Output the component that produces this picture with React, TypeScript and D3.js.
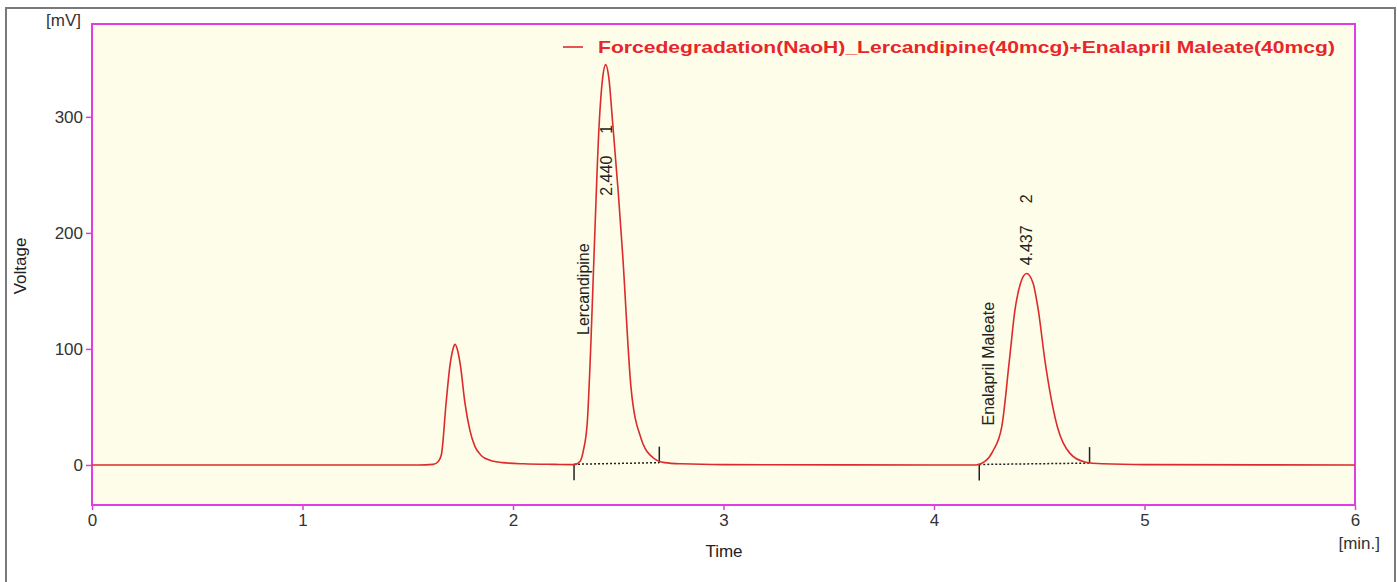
import * as d3 from 'd3';
import { useEffect, useRef } from 'react';

// chromatogram signal (min, mV)
const signalTime = [
  0, 1.55, 1.62, 1.645, 1.66, 1.682, 1.7, 1.715, 1.724, 1.735, 1.75, 1.772, 1.795, 1.819, 1.85, 1.891, 1.95, 2.05, 2.2,
  2.29, 2.318, 2.335, 2.353, 2.37, 2.385, 2.41, 2.425, 2.44, 2.455, 2.473, 2.5, 2.521, 2.561, 2.608, 2.667, 2.72, 2.8, 3.0,
  4.0, 4.2, 4.242, 4.28, 4.322, 4.358, 4.385, 4.41, 4.44, 4.47, 4.495, 4.527, 4.586, 4.646, 4.717, 4.8, 5.0, 6.0,
];
const signalVolt = [
  0, 0, 0.5, 3, 9, 53, 85, 100, 104, 100, 86, 53, 30, 16, 8, 4, 2, 1, 0.5,
  0.3, 3, 13, 37, 105, 181, 296, 332, 345, 334, 296, 235, 181, 66, 23, 6, 2, 1, 0.3,
  0, 0, 3, 12, 33, 90, 134, 156, 165, 157, 134, 90, 33, 10, 2.6, 1, 0.3, 0,
];

// integrated peaks
const peakNumbers = [1, 2];
const peakNames = ['Lercandipine', 'Enalapril Maleate'];
const retentionTimes = [2.44, 4.437];
const peakStarts = [2.29, 4.215];
const peakEnds = [2.695, 4.739];
const startLevels = [0.6, 0.4];
const endLevels = [2.0, 1.6];
const rtLabelLevels = [232, 172];
const nameLabelLevels = [112, 34];

const xTicks = [0, 1, 2, 3, 4, 5, 6];
const yTicks = [0, 100, 200, 300];
const legendText = 'Forcedegradation(NaoH)_Lercandipine(40mcg)+Enalapril Maleate(40mcg)';

const W = 1397;
const H = 582;
const FONT = 'Arial, "Liberation Sans", sans-serif';
const MAGENTA = '#e03ee0';
const RED = '#dc2b2b';

const App = () => {
  const svgRef = useRef(null);

  useEffect(() => {
    const svg = d3.select(svgRef.current);
    svg.selectAll('*').remove();

    const left = 92, top = 24, right = 1355, bottom = 505;
    const x = d3.scaleLinear().domain([0, 6]).range([left, right]);
    const y = d3.scaleLinear().domain([-34.5, 380]).range([bottom, top]);

    // outer frame
    svg.append('rect')
      .attr('x', 6).attr('y', 8).attr('width', 1389).attr('height', 590)
      .attr('fill', '#fff').attr('stroke', '#7a7a7a').attr('stroke-width', 2);

    // plot area
    svg.append('rect')
      .attr('x', left).attr('y', top).attr('width', right - left).attr('height', bottom - top)
      .attr('fill', '#fdfde9').attr('stroke', MAGENTA).attr('stroke-width', 2);

    // y axis
    const yAxis = svg.append('g').attr('transform', `translate(${left},0)`)
      .call(d3.axisLeft(y).tickValues(yTicks).tickSize(6).tickPadding(3).tickFormat(d3.format('d')));
    yAxis.select('.domain').remove();
    yAxis.selectAll('line').attr('stroke', MAGENTA).attr('stroke-width', 1.5);
    yAxis.selectAll('text').attr('fill', '#333').style('font', `17px ${FONT}`);

    // x axis
    const xAxis = svg.append('g').attr('transform', `translate(0,${bottom})`)
      .call(d3.axisBottom(x).tickValues(xTicks).tickSize(5).tickPadding(4).tickFormat(d3.format('d')));
    xAxis.select('.domain').remove();
    xAxis.selectAll('line').attr('stroke', MAGENTA).attr('stroke-width', 1.5);
    xAxis.selectAll('text').attr('fill', '#333').style('font', `17px ${FONT}`);

    // axis titles
    svg.append('text').attr('x', 81).attr('y', 26).attr('text-anchor', 'end')
      .attr('fill', '#333').style('font', `17px ${FONT}`).text('[mV]');
    svg.append('text').attr('x', 1380).attr('y', 549).attr('text-anchor', 'end')
      .attr('fill', '#333').style('font', `17px ${FONT}`).text('[min.]');
    svg.append('text').attr('x', 724).attr('y', 557).attr('text-anchor', 'middle')
      .attr('fill', '#222').style('font', `17px ${FONT}`).text('Time');
    svg.append('text').attr('transform', 'translate(26,266) rotate(-90)').attr('text-anchor', 'middle')
      .attr('fill', '#222').style('font', `17px ${FONT}`).text('Voltage');

    // integration baselines
    const peaks = peakNumbers.map((n, i) => ({
      n, name: peakNames[i], rt: retentionTimes[i],
      s: peakStarts[i], e: peakEnds[i], sl: startLevels[i], el: endLevels[i],
      rtAt: rtLabelLevels[i], nameAt: nameLabelLevels[i],
    }));

    const marks = svg.append('g');
    marks.selectAll('.bl').data(peaks).enter().append('line')
      .attr('x1', (d) => x(d.s)).attr('y1', (d) => y(d.sl))
      .attr('x2', (d) => x(d.e)).attr('y2', (d) => y(d.el))
      .attr('stroke', '#222').attr('stroke-width', 1.5).attr('stroke-dasharray', '2,2');
    marks.selectAll('.ps').data(peaks).enter().append('line')
      .attr('x1', (d) => x(d.s)).attr('x2', (d) => x(d.s))
      .attr('y1', (d) => y(d.sl)).attr('y2', (d) => y(d.sl) + 16)
      .attr('stroke', '#222').attr('stroke-width', 1.5);
    marks.selectAll('.pe').data(peaks).enter().append('line')
      .attr('x1', (d) => x(d.e)).attr('x2', (d) => x(d.e))
      .attr('y1', (d) => y(d.el)).attr('y2', (d) => y(d.el) - 16)
      .attr('stroke', '#222').attr('stroke-width', 1.5);

    // signal trace
    const pts = signalTime.map((t, i) => [t, signalVolt[i]]);
    const line = d3.line().x((d) => x(d[0])).y((d) => y(d[1])).curve(d3.curveMonotoneX);
    svg.append('path').datum(pts).attr('d', line)
      .attr('fill', 'none').attr('stroke', RED).attr('stroke-width', 1.6);

    // peak labels
    const rtLabel = marks.selectAll('.rt').data(peaks).enter().append('text')
      .attr('transform', (d) => `translate(${x(d.rt) + 6},${y(d.rtAt)}) rotate(-90)`)
      .attr('fill', '#222').style('font', `16px ${FONT}`);
    rtLabel.append('tspan').text((d) => d.rt.toFixed(3));
    rtLabel.append('tspan').attr('dx', 22).text((d) => d.n);

    marks.selectAll('.nm').data(peaks).enter().append('text')
      .attr('transform', (d) => `translate(${x(d.s) + 15},${y(d.nameAt)}) rotate(-90)`)
      .attr('fill', '#222').style('font', `16px ${FONT}`)
      .text((d) => d.name);

    // legend
    svg.append('line').attr('x1', 563).attr('x2', 583).attr('y1', 47).attr('y2', 47)
      .attr('stroke', RED).attr('stroke-width', 1.6);
    svg.append('text').attr('x', 598).attr('y', 53)
      .attr('textLength', 737).attr('lengthAdjust', 'spacingAndGlyphs')
      .attr('fill', '#e8262a').style('font', `bold 17px ${FONT}`).text(legendText);
  }, []);

  return (
    <svg ref={svgRef} width={W} height={H}
      style={{ position: 'absolute', left: 0, top: 0, background: '#fff' }} />
  );
};

export default App;
